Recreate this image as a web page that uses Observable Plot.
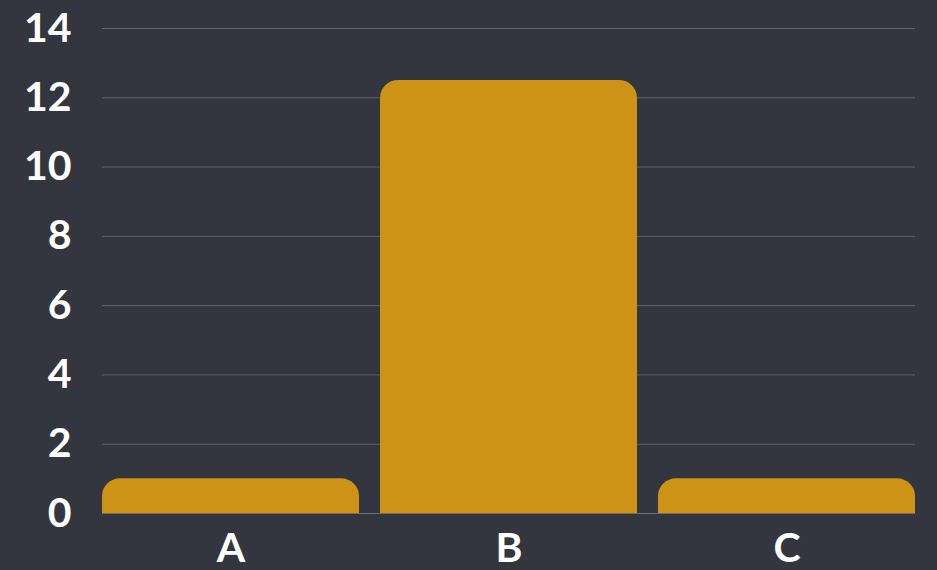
<!DOCTYPE html>
<html>
<head>
<meta charset="utf-8">
<script src="https://cdn.jsdelivr.net/npm/d3@7"></script>
<script src="https://cdn.jsdelivr.net/npm/@observablehq/plot@0.6"></script>
<style>
  html, body { margin: 0; padding: 0; background: #33363e; }
  #chart svg { display: block; }
</style>
</head>
<body>
<div id="chart"></div>
<script>
const categories = ["A", "B", "C"];
const values = [1, 12.5, 1];
const yTicks = [0, 2, 4, 6, 8, 10, 12, 14];

const data = categories.map((c, i) => ({ cat: c, value: values[i] }));

const chart = Plot.plot({
  width: 937,
  height: 570,
  marginTop: 28,
  marginBottom: 57,
  marginLeft: 102,
  marginRight: 22,
  style: {
    background: "#33363e",
    color: "#ffffff",
    fontFamily: "Lato, sans-serif",
    fontSize: "41px",
    fontWeight: "bold"
  },
  x: { domain: categories, paddingInner: 0.0755, paddingOuter: 0, round: false, label: null },
  y: { domain: [0, 14], label: null },
  marks: [
    Plot.gridY(yTicks, { stroke: "#5f6268", strokeOpacity: 1, strokeWidth: 1 }),
    Plot.ruleY([0], { stroke: "#6a6d73" }),
    Plot.barY(data, { x: "cat", y: "value", fill: "#cc9316", rx: 18 }),
    Plot.barY(data, { x: "cat", y1: 0, y2: d => d.value / 2, fill: "#cc9316" }),
    Plot.axisY(yTicks, { tickSize: 0, tickPadding: 31, fill: "#ffffff", fontSize: 41, fontWeight: "bold", label: null }),
    Plot.axisX(categories, { tickSize: 0, tickPadding: 19, fill: "#ffffff", fontSize: 41, fontWeight: "bold", label: null })
  ]
});
document.getElementById("chart").appendChild(chart);
</script>
</body>
</html>
